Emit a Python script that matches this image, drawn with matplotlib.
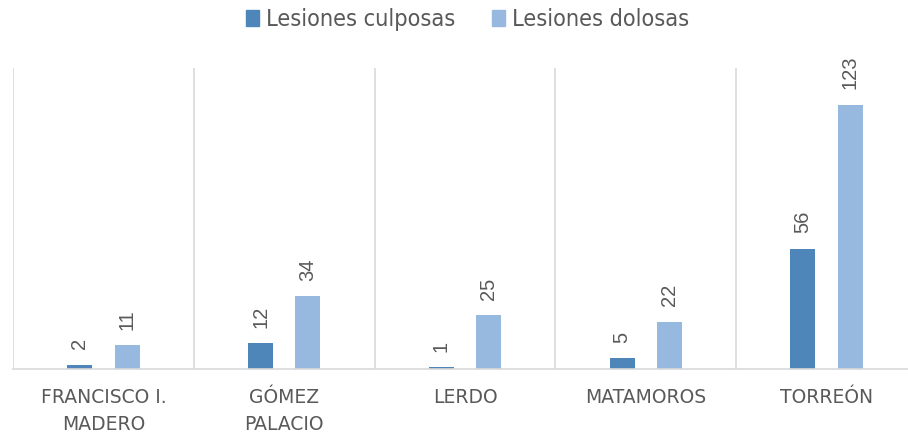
import matplotlib
matplotlib.use("Agg")
import matplotlib.pyplot as plt
from matplotlib.patches import Patch
import numpy as np

categories = ["FRANCISCO I.\nMADERO", "GÓMEZ\nPALACIO", "LERDO", "MATAMOROS", "TORREÓN"]
series_names = ["Lesiones culposas", "Lesiones dolosas"]
culposas = [2, 12, 1, 5, 56]
dolosas = [11, 34, 25, 22, 123]

c1 = "#4E86BA"
c2 = "#97B9E0"
txt = "#595959"
grid = "#D9D9D9"

plt.rcParams['font.family'] = ['Liberation Sans', 'DejaVu Sans']

fig = plt.figure(figsize=(9.08, 4.34), dpi=100)
ax = fig.add_axes([13/908, 1-369/434, 904/908, (369-68)/434])

x = np.arange(len(categories))
w = 0.138
off = 0.131
b1 = ax.bar(x - off, culposas, w, color=c1)
b2 = ax.bar(x + off, dolosas, w, color=c2)

for bars, vals in ((b1, culposas), (b2, dolosas)):
    for b, v in zip(bars, vals):
        ax.annotate(str(v), (b.get_x() + b.get_width()/2, b.get_height()),
                    xytext=(0, 11), textcoords="offset points",
                    rotation=90, ha="center", va="bottom", color=txt,
                    fontsize=14.5)

ax.set_xlim(-0.5, 4.5)
ax.set_ylim(0, 140)
for s in ["top", "right", "left"]:
    ax.spines[s].set_visible(False)
ax.spines["bottom"].set_color(grid)
ax.spines["bottom"].set_linewidth(1.2)
ax.set_yticks([])
ax.set_xticks(np.arange(-0.5, 4.6, 1), minor=True)
ax.set_xticks(x)
ax.set_xticklabels(categories, fontsize=13.5, color=txt, linespacing=1.5,
                   family=['DejaVu Sans'])
ax.tick_params(axis="x", which="major", length=0, pad=14)
ax.tick_params(axis="x", which="minor", length=0)
ax.grid(True, axis="x", which="minor", color=grid, linewidth=1.2)
ax.set_axisbelow(True)

handles = [Patch(color=c1), Patch(color=c2)]
fig.legend(handles, series_names, loc="upper center", bbox_to_anchor=(0.515, 1.03),
           ncol=2, frameon=False, handlelength=0.57, handleheight=0.7,
           handletextpad=0.3, columnspacing=1.55, labelcolor=txt,
           prop={'family': 'DejaVu Sans', 'stretch': 'condensed', 'size': 16.8})

fig.savefig("out.png", dpi=100)
